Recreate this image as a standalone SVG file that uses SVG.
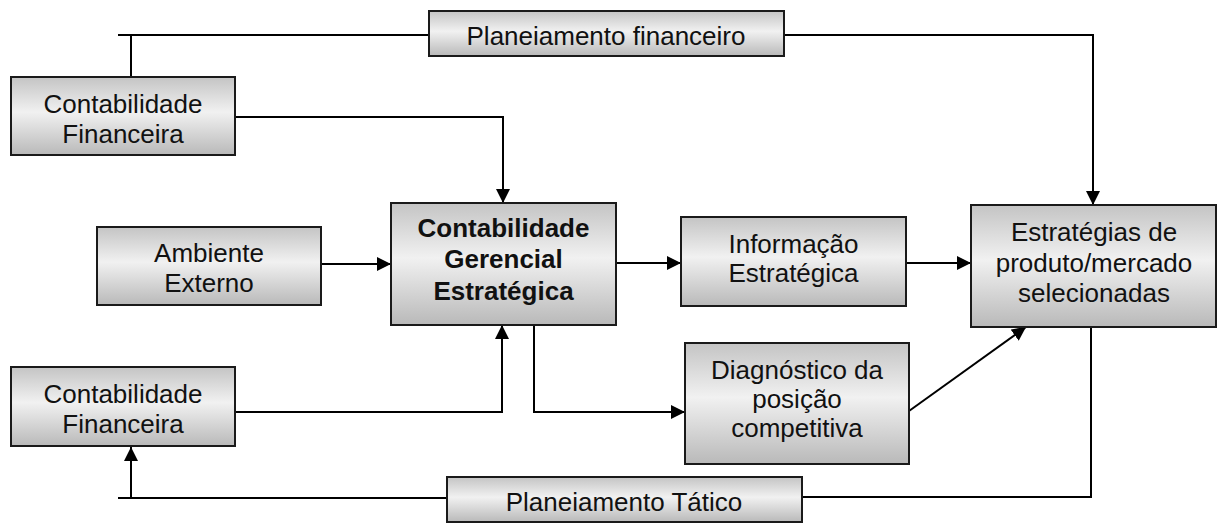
<svg xmlns="http://www.w3.org/2000/svg" width="1218" height="523" viewBox="0 0 1218 523">
  <defs>
    <linearGradient id="boxfill" x1="0" y1="0" x2="0" y2="1">
      <stop offset="0" stop-color="#c4c4c4"/>
      <stop offset="0.45" stop-color="#f1f1f1"/>
      <stop offset="1" stop-color="#b9b9b9"/>
    </linearGradient>
    <marker id="arrow" markerUnits="userSpaceOnUse" markerWidth="14" markerHeight="14" viewBox="0 0 14 14" refX="14" refY="7" orient="auto">
      <path d="M0,0 L14,7 L0,14 z" fill="#000"/>
    </marker>
  </defs>
  <style>
    .box { fill: url(#boxfill); stroke: #1a1a1a; stroke-width: 2; }
    .lbl { font-family: "Liberation Sans", Arial, sans-serif; font-size: 26px; fill: #111; text-anchor: middle; }
    .bold { font-weight: bold; }
    .conn { fill: none; stroke: #000; stroke-width: 2; }
    .arr { marker-end: url(#arrow); }
  </style>
  <rect width="1218" height="523" fill="#fff"/>

  <g id="connectors">
    <path class="conn" d="M118,35 H429"/>
    <path class="conn" d="M131,35 V77"/>
    <path class="conn arr" d="M784,35 H1093 V205"/>
    <path class="conn arr" d="M235,117 H503 V203"/>
    <path class="conn arr" d="M321,264 H391"/>
    <path class="conn arr" d="M616,263 H681"/>
    <path class="conn arr" d="M906,263 H971"/>
    <path class="conn arr" d="M235,412 H502 V325"/>
    <path class="conn arr" d="M534,325 V412 H685"/>
    <path class="conn arr" d="M909,411 L1026,327"/>
    <path class="conn" d="M802,497 H1091 V327"/>
    <path class="conn" d="M447,498 H118"/>
    <path class="conn arr" d="M131,498 V447"/>
  </g>

  <g id="planejamento-financeiro">
    <rect class="box" x="429" y="11" width="355" height="45"/>
    <text class="lbl" x="606" y="45">Planeiamento financeiro</text>
  </g>

  <g id="contabilidade-financeira-1">
    <rect class="box" x="11" y="77" width="224" height="78"/>
    <text class="lbl" x="123" y="113">Contabilidade</text>
    <text class="lbl" x="123" y="143">Financeira</text>
  </g>

  <g id="ambiente-externo">
    <rect class="box" x="97" y="227" width="224" height="78"/>
    <text class="lbl" x="209" y="262">Ambiente</text>
    <text class="lbl" x="209" y="292">Externo</text>
  </g>

  <g id="contabilidade-gerencial">
    <rect class="box" x="391" y="203" width="225" height="122"/>
    <text class="lbl bold" x="503.5" y="237">Contabilidade</text>
    <text class="lbl bold" x="503.5" y="268">Gerencial</text>
    <text class="lbl bold" x="503.5" y="300">Estratégica</text>
  </g>

  <g id="informacao-estrategica">
    <rect class="box" x="681" y="217" width="225" height="89"/>
    <text class="lbl" x="793.5" y="253">Informação</text>
    <text class="lbl" x="793.5" y="282">Estratégica</text>
  </g>

  <g id="estrategias">
    <rect class="box" x="971" y="205" width="245" height="122"/>
    <text class="lbl" x="1094" y="241">Estratégias de</text>
    <text class="lbl" x="1094" y="272">produto/mercado</text>
    <text class="lbl" x="1094" y="302">selecionadas</text>
  </g>

  <g id="diagnostico">
    <rect class="box" x="685" y="343" width="224" height="121"/>
    <text class="lbl" x="797" y="379">Diagnóstico da</text>
    <text class="lbl" x="797" y="408">posição</text>
    <text class="lbl" x="797" y="437">competitiva</text>
  </g>

  <g id="contabilidade-financeira-2">
    <rect class="box" x="11" y="367" width="224" height="79"/>
    <text class="lbl" x="123" y="403">Contabilidade</text>
    <text class="lbl" x="123" y="433">Financeira</text>
  </g>

  <g id="planejamento-tatico">
    <rect class="box" x="447" y="477" width="355" height="45"/>
    <text class="lbl" x="624" y="511">Planeiamento Tático</text>
  </g>
</svg>
